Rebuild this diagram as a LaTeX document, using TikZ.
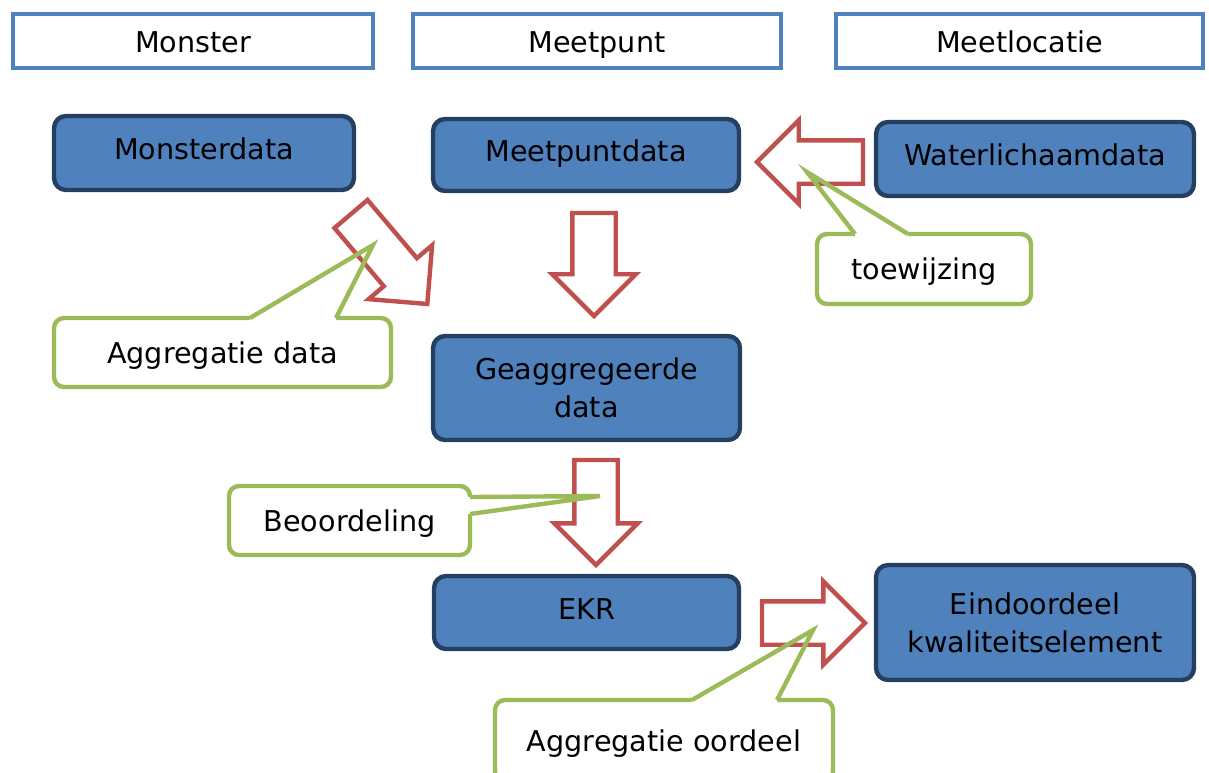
\documentclass[tikz,border=0pt]{standalone}
\usepackage{fontspec}
\setmainfont{DejaVu Sans}
\usetikzlibrary{shapes.arrows,calc}
\definecolor{hdrblue}{HTML}{4F81BD}
\definecolor{boxfill}{HTML}{4F81BD}
\definecolor{boxedge}{HTML}{243F60}
\definecolor{redc}{HTML}{C0504D}
\definecolor{greenc}{HTML}{9BBB59}
\tikzset{
  every node/.style={font=\fontsize{16.3}{21.5}\selectfont, inner sep=0pt, outer sep=0pt},
  header/.style={draw=hdrblue, fill=white, line width=2.5pt, text height=14pt, text depth=0.4pt},
  bluebox/.style={draw=boxedge, fill=boxfill, line width=2.5pt, rounded corners=0.24cm, align=center},
  blueone/.style={bluebox, text height=11.5pt, text depth=4.1pt},
  callbox/.style={draw=greenc, fill=white, line width=2.5pt, rounded corners=0.2cm, text height=13pt, text depth=1pt},
  blockarrow/.style={single arrow, draw=redc, fill=white, line width=2.5pt,
    inner xsep=0pt, inner ysep=0.39cm, single arrow head extend=0.4cm, anchor=tail},
  pointerline/.style={draw=greenc, line width=2.5pt, line join=miter},
}
\begin{document}
\begin{tikzpicture}[x=0.02cm, y=-0.02cm]
\useasboundingbox (0,0) rectangle (1209,772);
% headers
\node[header, minimum width=7.2cm, minimum height=1.08cm] (hMon) at (193,41) {Monster};
\node[header, minimum width=7.36cm, minimum height=1.08cm] (hMeet) at (597,41) {Meetpunt};
\node[header, minimum width=7.34cm, minimum height=1.08cm] (hLoc) at (1019.5,41) {Meetlocatie};
% blue boxes
\node[blueone, minimum width=6.0cm, minimum height=1.48cm] (mdata) at (204,153) {Monsterdata};
\node[blueone, minimum width=6.12cm, minimum height=1.44cm] (mpdata) at (586,155) {Meetpuntdata};
\node[blueone, minimum width=6.36cm, minimum height=1.48cm] (wdata) at (1035,159) {Waterlichaamdata};
\node[bluebox, minimum width=6.14cm, minimum height=2.08cm] (gdata) at (586.5,388) {Geaggregeerde\\data};
\node[blueone, minimum width=6.10cm, minimum height=1.46cm] (ekr) at (586.5,612.5) {EKR};
\node[bluebox, minimum width=6.36cm, minimum height=2.30cm] (eind) at (1035,622.5) {Eindoordeel\\kwaliteitselement};
% callout boxes
\node[callbox, minimum width=6.74cm, minimum height=1.38cm] (cAgg) at (222.5,352.5) {Aggregatie data};
\node[callbox, minimum width=4.28cm, minimum height=1.40cm] (cToe) at (924,269) {toewijzing};
\node[callbox, minimum width=4.82cm, minimum height=1.38cm] (cBeo) at (349.5,520.5) {Beoordeling};
\node[callbox, minimum width=6.76cm, minimum height=1.64cm] (cOor) at (664,741) {Aggregatie oordeel};
% pointer coordinates
\coordinate (aggB1) at (250,318); \coordinate (aggB2) at (336,318); \coordinate (aggT) at (373,245);
\coordinate (toeB1) at (855,234); \coordinate (toeB2) at (908,234); \coordinate (toeT) at (807,172);
\coordinate (beoB1) at (470,497); \coordinate (beoB2) at (470,514); \coordinate (beoT) at (600,496);
\coordinate (oorB1) at (692,700); \coordinate (oorB2) at (777,700); \coordinate (oorT) at (813,630);
% pointer fills (hide box border under the pointer base)
\fill[white] ($(aggB1)+(0,4)$) -- (aggB1) -- (aggT) -- (aggB2) -- ($(aggB2)+(0,4)$) -- cycle;
\fill[white] ($(toeB1)+(0,4)$) -- (toeB1) -- (toeT) -- (toeB2) -- ($(toeB2)+(0,4)$) -- cycle;
\fill[white] ($(beoB1)+(-4,0)$) -- (beoB1) -- (beoT) -- (beoB2) -- ($(beoB2)+(-4,0)$) -- cycle;
\fill[white] ($(oorB1)+(0,4)$) -- (oorB1) -- (oorT) -- (oorB2) -- ($(oorB2)+(0,4)$) -- cycle;
% red block arrows
\node[blockarrow, minimum height=2.36cm, rotate=-49.7] (a1) at (351,214) {};
\node[blockarrow, minimum height=2.06cm, rotate=-90] (a2) at (594,213) {};
\node[blockarrow, minimum height=2.12cm, rotate=180] (a3) at (863,162) {};
\node[blockarrow, minimum height=2.10cm, rotate=-90] (a4) at (596,460) {};
\node[blockarrow, minimum height=2.06cm] (a5) at (762,623) {};
% green pointer lines
\draw[pointerline] (aggB1) -- (aggT) -- (aggB2);
\draw[pointerline] (toeB1) -- (toeT) -- (toeB2);
\draw[pointerline] (beoB1) -- (beoT) -- (beoB2);
\draw[pointerline] (oorB1) -- (oorT) -- (oorB2);
\end{tikzpicture}
\end{document}
